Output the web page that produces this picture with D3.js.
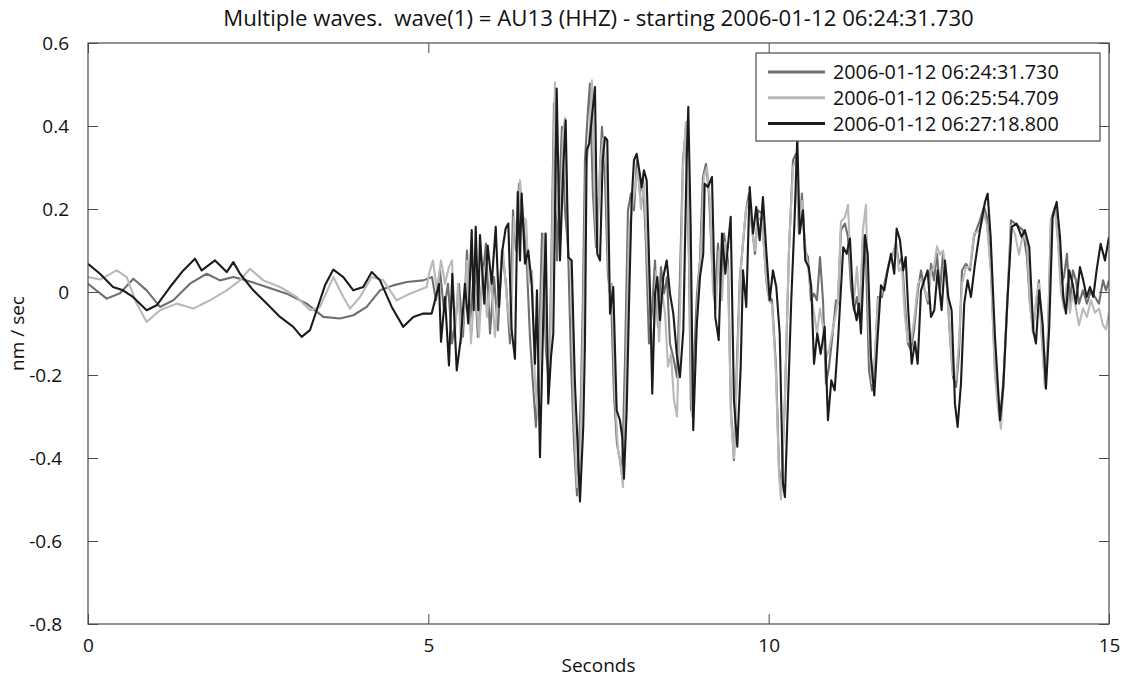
<!DOCTYPE html>
<html>
<head>
<meta charset="utf-8">
<script src="https://cdn.jsdelivr.net/npm/d3@7"></script>
<style>
  html, body { margin: 0; padding: 0; background: #fff; }
  svg { display: block; font-family: "Open Sans", "Noto Sans", sans-serif; }
</style>
</head>
<body>
<svg id="chart" width="1122" height="679"></svg>
<script>
// ---------- data ----------
const titleText = "Multiple waves.  wave(1) = AU13 (HHZ) - starting 2006-01-12 06:24:31.730";
const xLabel = "Seconds";
const yLabel = "nm / sec";
const seriesNames = ["2006-01-12 06:24:31.730", "2006-01-12 06:25:54.709", "2006-01-12 06:27:18.800"];
const xTicks = [0, 5, 10, 15];
const yTicks = [-0.8, -0.6, -0.4, -0.2, 0, 0.2, 0.4, 0.6];
const yTickLabels = ["-0.8", "-0.6", "-0.4", "-0.2", "0", "0.2", "0.4", "0.6"];
const xDomain = [0, 15];
const yDomain = [-0.8, 0.6];

// wave 1 (dark gray): [seconds, nm/sec]
const wave1 = [[0,0.020],[0.275,-0.016],[0.470,-0.003],[0.666,0.032],[0.862,0.004],[1.058,-0.036],[1.253,-0.020],[1.498,0.020],[1.744,0.044],[1.939,0.028],[2.135,0.036],[2.331,0.028],[2.625,0.012],[2.919,-0.004],[3.213,-0.028],[3.457,-0.060],[3.702,-0.064],[3.898,-0.056],[4.094,-0.036],[4.290,0.004],[4.485,0.016],[4.682,0.024],[4.926,0.028],[5.054,0.036],[5.112,-0.020],[5.171,0.052],[5.230,-0.044],[5.289,0.020],[5.348,-0.124],[5.406,-0.060],[5.450,0.020],[5.509,-0.108],[5.568,0.100],[5.612,-0.076],[5.671,0.052],[5.729,-0.108],[5.788,0.020],[5.847,0.117],[5.906,-0.100],[5.965,0.036],[6.023,-0.092],[6.082,0.100],[6.141,0.020],[6.200,-0.124],[6.244,0.197],[6.288,0.100],[6.332,0.261],[6.391,0.181],[6.449,0.060],[6.493,-0.108],[6.537,-0.221],[6.581,-0.325],[6.625,-0.140],[6.670,0.141],[6.728,-0.140],[6.772,-0.221],[6.802,0.020],[6.846,0.455],[6.890,0.076],[6.934,0.277],[6.963,0.398],[7.007,0.197],[7.052,0.108],[7.096,-0.165],[7.140,-0.365],[7.184,-0.490],[7.243,-0.245],[7.272,-0.004],[7.301,0.317],[7.345,0.438],[7.374,0.502],[7.418,0.237],[7.463,0.108],[7.507,0.237],[7.551,0.398],[7.595,0.277],[7.639,0.036],[7.683,-0.004],[7.727,-0.245],[7.771,-0.365],[7.815,-0.405],[7.845,-0.440],[7.889,-0.165],[7.933,0.197],[7.977,0.237],[8.021,0.197],[8.065,0.317],[8.109,0.237],[8.153,0.277],[8.197,0.117],[8.242,-0.124],[8.286,-0.044],[8.330,0.076],[8.374,-0.084],[8.418,0.060],[8.462,-0.004],[8.506,0.036],[8.550,-0.124],[8.609,-0.165],[8.653,-0.205],[8.697,0.036],[8.741,0.317],[8.785,0.398],[8.829,0.076],[8.859,-0.285],[8.903,-0.165],[8.947,-0.004],[8.991,0.076],[9.035,0.277],[9.079,0.309],[9.123,0.237],[9.167,0.076],[9.211,-0.020],[9.255,0.117],[9.299,0.012],[9.343,0.141],[9.402,0.076],[9.446,-0.285],[9.490,-0.405],[9.534,-0.165],[9.578,0.036],[9.623,0.117],[9.667,0.197],[9.711,0.237],[9.755,0.157],[9.799,0.092],[9.843,0.197],[9.902,0.189],[9.961,0.036],[9.990,-0.004],[10.049,-0.020],[10.108,-0.181],[10.152,-0.422],[10.181,-0.485],[10.239,-0.261],[10.298,0.100],[10.357,0.317],[10.401,0.333],[10.445,0.141],[10.489,0.237],[10.533,0.100],[10.577,0.084],[10.621,-0.020],[10.666,-0.004],[10.710,-0.020],[10.754,0.084],[10.798,-0.020],[10.842,-0.221],[10.886,-0.181],[10.930,-0.116],[10.989,-0.020],[11.018,-0.028],[11.062,0.149],[11.121,0.165],[11.165,0.133],[11.209,0.012],[11.253,-0.044],[11.297,-0.012],[11.341,-0.068],[11.385,0.133],[11.429,0.084],[11.474,-0.189],[11.518,-0.237],[11.562,-0.157],[11.606,-0.012],[11.665,-0.012],[11.709,0.028],[11.767,0.068],[11.826,0.092],[11.870,0.117],[11.914,0.068],[11.958,0.084],[12.002,-0.028],[12.046,-0.124],[12.091,-0.140],[12.135,-0.092],[12.193,0.004],[12.238,0.052],[12.282,0.012],[12.340,-0.028],[12.385,0.068],[12.429,0.028],[12.473,0.092],[12.517,0.004],[12.561,0.092],[12.605,0.052],[12.664,-0.108],[12.708,-0.205],[12.752,-0.229],[12.796,-0.149],[12.840,0.052],[12.899,0.068],[12.958,0.052],[13.016,0.133],[13.104,0.173],[13.163,0.205],[13.207,0.181],[13.266,0.052],[13.325,-0.189],[13.369,-0.269],[13.413,-0.285],[13.457,-0.189],[13.516,0.012],[13.560,0.173],[13.618,0.165],[13.677,0.157],[13.736,0.149],[13.795,0.084],[13.839,-0.028],[13.883,-0.092],[13.927,-0.028],[13.971,0.028],[14.015,-0.108],[14.059,-0.221],[14.103,-0.108],[14.147,0.173],[14.206,0.205],[14.250,0.133],[14.294,0.020],[14.338,0.036],[14.382,0.092],[14.426,-0.028],[14.470,0.052],[14.515,0.028],[14.559,-0.028],[14.617,0.004],[14.676,-0.028],[14.735,0.004],[14.794,-0.012],[14.853,-0.028],[14.912,0.028],[14.956,0.004],[15.0,0.028]];

// wave 2 (light gray)
const wave2 = [[0,0.036],[0.176,0.030],[0.422,0.052],[0.569,0.036],[0.715,-0.028],[0.862,-0.072],[1.058,-0.044],[1.303,-0.028],[1.547,-0.040],[1.792,-0.020],[2.038,0.004],[2.233,0.028],[2.380,0.056],[2.575,0.028],[2.821,0.012],[3.066,-0.012],[3.261,-0.044],[3.408,-0.036],[3.604,0.036],[3.751,-0.012],[3.849,-0.040],[3.996,-0.012],[4.168,0.036],[4.338,0.028],[4.535,-0.020],[4.730,-0.004],[4.976,0.012],[5.010,0.044],[5.068,0.076],[5.127,0.004],[5.186,0.076],[5.245,0.020],[5.303,0.060],[5.348,0.076],[5.392,-0.100],[5.436,0.020],[5.480,-0.124],[5.524,-0.044],[5.568,0.076],[5.627,-0.124],[5.685,0.020],[5.744,-0.108],[5.803,0.060],[5.862,-0.060],[5.920,0.036],[5.979,-0.108],[6.038,0.020],[6.097,0.100],[6.155,-0.020],[6.214,-0.100],[6.258,0.181],[6.302,0.117],[6.347,0.269],[6.391,0.181],[6.435,0.173],[6.479,0.020],[6.523,0.052],[6.567,-0.221],[6.611,-0.301],[6.655,-0.060],[6.699,0.141],[6.743,-0.140],[6.787,-0.181],[6.816,0.100],[6.860,0.505],[6.890,0.200],[6.934,0.150],[6.978,0.380],[7.007,0.420],[7.052,0.100],[7.096,0.060],[7.140,-0.300],[7.184,-0.470],[7.228,-0.420],[7.272,-0.100],[7.316,0.300],[7.360,0.360],[7.404,0.510],[7.448,0.200],[7.478,0.100],[7.522,0.300],[7.566,0.370],[7.610,0.300],[7.654,0.000],[7.698,0.020],[7.742,-0.250],[7.786,-0.380],[7.830,-0.420],[7.859,-0.470],[7.903,-0.200],[7.948,0.150],[7.992,0.200],[8.036,0.250],[8.080,0.300],[8.124,0.200],[8.168,0.260],[8.212,0.100],[8.256,-0.050],[8.300,-0.150],[8.345,0.050],[8.389,-0.120],[8.433,0.000],[8.477,-0.050],[8.521,-0.180],[8.565,-0.150],[8.609,-0.260],[8.653,-0.300],[8.697,-0.050],[8.741,0.300],[8.785,0.410],[8.829,0.100],[8.873,-0.300],[8.917,-0.200],[8.961,0.000],[9.005,0.100],[9.050,0.280],[9.094,0.300],[9.138,0.220],[9.182,0.000],[9.226,-0.040],[9.270,0.100],[9.314,-0.020],[9.358,0.120],[9.402,0.050],[9.446,-0.300],[9.490,-0.400],[9.534,-0.200],[9.578,0.030],[9.623,0.120],[9.667,0.200],[9.711,0.220],[9.755,0.150],[9.799,0.100],[9.843,0.180],[9.902,0.170],[9.961,0.040],[10.005,-0.020],[10.049,-0.030],[10.108,-0.200],[10.152,-0.440],[10.181,-0.500],[10.239,-0.250],[10.298,0.100],[10.357,0.300],[10.401,0.320],[10.445,0.150],[10.489,0.220],[10.533,0.120],[10.577,0.060],[10.621,0.000],[10.666,-0.050],[10.710,-0.100],[10.754,-0.040],[10.798,-0.080],[10.842,-0.160],[10.886,-0.140],[10.930,-0.100],[10.989,-0.050],[11.018,-0.020],[11.062,0.170],[11.121,0.180],[11.165,0.210],[11.209,0.050],[11.253,-0.020],[11.297,0.060],[11.341,-0.050],[11.385,0.150],[11.429,0.210],[11.474,-0.100],[11.518,-0.220],[11.562,-0.150],[11.606,-0.020],[11.665,0.000],[11.709,0.020],[11.767,0.070],[11.826,0.090],[11.870,0.120],[11.914,0.050],[11.958,0.060],[12.002,-0.060],[12.046,-0.120],[12.091,-0.120],[12.135,-0.070],[12.193,0.020],[12.238,0.030],[12.282,0.010],[12.340,-0.020],[12.385,0.050],[12.429,0.060],[12.473,0.110],[12.517,0.090],[12.561,0.100],[12.605,0.050],[12.664,-0.100],[12.708,-0.200],[12.752,-0.210],[12.796,-0.120],[12.840,0.020],[12.899,0.060],[12.958,0.060],[13.016,0.140],[13.104,0.150],[13.163,0.190],[13.207,0.160],[13.266,0.050],[13.325,-0.200],[13.369,-0.280],[13.413,-0.330],[13.457,-0.200],[13.516,0.000],[13.560,0.160],[13.618,0.140],[13.677,0.090],[13.736,0.140],[13.795,0.120],[13.839,-0.030],[13.883,-0.100],[13.927,-0.020],[13.971,0.020],[14.015,-0.120],[14.059,-0.230],[14.103,-0.100],[14.147,0.170],[14.206,0.200],[14.250,0.120],[14.294,0.000],[14.338,-0.040],[14.382,0.020],[14.426,-0.050],[14.470,0.000],[14.515,-0.040],[14.559,-0.080],[14.617,-0.040],[14.676,-0.060],[14.735,-0.020],[14.794,-0.050],[14.853,-0.040],[14.912,-0.080],[14.956,-0.090],[15.0,-0.050]];

// wave 3 (black)
const wave3 = [[0,0.068],[0.176,0.044],[0.367,0.012],[0.514,0.004],[0.661,-0.012],[0.862,-0.044],[1.009,-0.032],[1.205,0.012],[1.400,0.052],[1.572,0.080],[1.670,0.052],[1.866,0.076],[2.038,0.048],[2.135,0.072],[2.233,0.044],[2.428,0.004],[2.625,-0.028],[2.821,-0.060],[3.016,-0.084],[3.139,-0.108],[3.261,-0.092],[3.360,-0.044],[3.482,0.016],[3.604,0.054],[3.751,0.036],[3.898,0.004],[4.044,0.012],[4.168,0.048],[4.290,0.028],[4.462,-0.036],[4.632,-0.084],[4.779,-0.060],[4.926,-0.052],[5.049,-0.052],[5.098,-0.020],[5.157,0.020],[5.186,-0.120],[5.245,-0.012],[5.303,-0.177],[5.352,0.044],[5.417,-0.189],[5.480,-0.108],[5.538,0.020],[5.587,-0.076],[5.637,0.149],[5.666,-0.044],[5.696,0.157],[5.734,-0.044],[5.759,0.137],[5.822,-0.028],[5.872,0.112],[5.931,0.020],[5.990,0.157],[6.038,-0.036],[6.087,0.100],[6.136,0.153],[6.175,0.165],[6.224,-0.092],[6.273,-0.161],[6.313,0.241],[6.347,0.076],[6.371,0.237],[6.420,0.068],[6.468,0.100],[6.518,0.020],[6.567,-0.173],[6.596,0.004],[6.640,-0.398],[6.689,-0.060],[6.724,0.141],[6.762,-0.269],[6.802,-0.157],[6.836,-0.100],[6.886,0.490],[6.934,0.076],[6.983,0.301],[7.018,0.414],[7.056,0.084],[7.106,0.076],[7.154,-0.221],[7.203,-0.405],[7.228,-0.505],[7.276,-0.325],[7.301,-0.124],[7.326,0.341],[7.364,0.358],[7.448,0.494],[7.482,0.092],[7.522,0.076],[7.561,0.317],[7.595,0.373],[7.629,0.366],[7.669,-0.052],[7.717,0.012],[7.767,-0.285],[7.815,-0.309],[7.849,-0.349],[7.874,-0.450],[7.914,-0.285],[7.952,-0.004],[7.987,0.221],[8.021,0.317],[8.061,0.333],[8.099,0.293],[8.134,0.253],[8.168,0.293],[8.208,0.269],[8.256,0.004],[8.290,-0.245],[8.330,-0.004],[8.364,0.036],[8.403,-0.068],[8.452,0.036],[8.502,0.076],[8.550,-0.004],[8.599,-0.052],[8.649,-0.148],[8.697,-0.205],[8.746,-0.092],[8.795,0.317],[8.819,0.446],[8.854,0.157],[8.892,-0.333],[8.942,-0.084],[8.991,0.036],[9.039,0.092],[9.060,0.261],[9.108,0.253],[9.167,0.277],[9.216,-0.060],[9.266,-0.116],[9.314,0.141],[9.363,0.044],[9.442,0.181],[9.490,-0.261],[9.539,-0.373],[9.589,-0.181],[9.623,0.052],[9.671,-0.036],[9.721,0.253],[9.770,0.141],[9.818,0.205],[9.868,0.125],[9.916,0.229],[9.965,0.100],[10.015,-0.020],[10.063,0.052],[10.112,0.012],[10.162,-0.100],[10.210,-0.462],[10.239,-0.494],[10.284,-0.261],[10.332,-0.020],[10.382,0.181],[10.420,0.373],[10.455,0.141],[10.504,0.197],[10.538,0.076],[10.588,0.060],[10.626,0.012],[10.666,-0.173],[10.714,-0.100],[10.764,-0.149],[10.823,-0.084],[10.871,-0.309],[10.920,-0.213],[10.970,-0.237],[11.018,-0.120],[11.096,0.108],[11.146,0.092],[11.194,0.129],[11.243,-0.028],[11.293,-0.068],[11.327,-0.028],[11.356,-0.100],[11.415,0.137],[11.455,0.092],[11.503,-0.157],[11.552,-0.249],[11.601,-0.108],[11.650,0.016],[11.698,0.004],[11.748,0.052],[11.797,0.092],[11.845,0.044],[11.880,0.153],[11.929,0.125],[11.977,0.052],[12.013,0.084],[12.051,-0.044],[12.101,-0.173],[12.149,-0.120],[12.189,-0.173],[12.238,0.004],[12.286,0.028],[12.336,0.052],[12.385,-0.060],[12.433,-0.044],[12.483,0.052],[12.541,-0.044],[12.590,0.076],[12.639,-0.012],[12.688,-0.044],[12.737,-0.269],[12.776,-0.325],[12.825,-0.221],[12.873,-0.028],[12.923,0.028],[12.972,-0.012],[13.031,0.068],[13.104,0.149],[13.178,0.217],[13.217,0.237],[13.261,0.133],[13.325,-0.108],[13.398,-0.309],[13.447,-0.229],[13.505,-0.028],[13.570,0.157],[13.643,0.165],[13.717,0.133],[13.765,0.149],[13.829,0.108],[13.887,-0.092],[13.927,-0.124],[13.975,0.004],[14.025,-0.076],[14.074,-0.233],[14.122,-0.084],[14.172,0.181],[14.231,0.217],[14.280,0.133],[14.328,-0.012],[14.368,-0.052],[14.416,0.052],[14.466,0.020],[14.515,-0.028],[14.573,0.060],[14.622,0.028],[14.672,-0.012],[14.720,0.012],[14.769,-0.012],[14.818,0.052],[14.877,0.116],[14.941,0.076],[15.0,0.133]];

const seriesColors = ["#6f6f6f", "#b9b9b9", "#1b1b1b"];

// ---------- layout ----------
const W = 1122, H = 679;
const margin = { top: 43, right: 13, bottom: 55, left: 88 };
const iw = W - margin.left - margin.right;
const ih = H - margin.top - margin.bottom;
const axisColor = "#4a4a4a";
const FONT = '"Open Sans", "Noto Sans", sans-serif';

const svg = d3.select("#chart");
svg.append("rect").attr("width", W).attr("height", H).attr("fill", "#fff");

const x = d3.scaleLinear().domain(xDomain).range([0, iw]);
const y = d3.scaleLinear().domain(yDomain).range([ih, 0]);

const g = svg.append("g").attr("transform", `translate(${margin.left},${margin.top})`);

g.append("clipPath").attr("id", "clip")
  .append("rect").attr("width", iw).attr("height", ih);

// lines
const line = d3.line().x(d => x(d[0])).y(d => y(d[1]));
const waves = [wave1, wave2, wave3];
const plot = g.append("g").attr("clip-path", "url(#clip)");
waves.forEach((w, i) => {
  plot.append("path")
    .datum(w)
    .attr("fill", "none")
    .attr("stroke", seriesColors[i])
    .attr("stroke-width", 2.1)
    .attr("stroke-linejoin", "round")
    .attr("d", line);
});

// axes (ticks inward on all four sides)
const fmtY = d => yTickLabels[yTicks.indexOf(d)];
const styleAxis = sel => {
  sel.select(".domain").remove();
  sel.selectAll(".tick line").attr("stroke", axisColor).attr("stroke-width", 1);
  sel.selectAll(".tick text").attr("fill", "#111").style("font-size", "19px")
    .style("font-family", FONT);
};

g.append("g").attr("transform", `translate(0,${ih})`)
  .call(d3.axisBottom(x).tickValues(xTicks).tickSize(-10).tickPadding(15).tickFormat(d3.format("d")))
  .call(styleAxis);
const yAxisG = g.append("g")
  .call(d3.axisLeft(y).tickValues(yTicks).tickSize(-10).tickPadding(19).tickFormat(fmtY))
  .call(styleAxis);
// negative labels sit slightly further left, as in the original
yAxisG.selectAll(".tick text").attr("dx", d => d < 0 ? -7 : 0);

g.append("g")
  .call(d3.axisTop(x).tickValues(xTicks).tickSize(-10).tickFormat(""))
  .call(styleAxis);
g.append("g").attr("transform", `translate(${iw},0)`)
  .call(d3.axisRight(y).tickValues(yTicks).tickSize(-10).tickFormat(""))
  .call(styleAxis);

// frame
g.append("rect").attr("width", iw).attr("height", ih)
  .attr("fill", "none").attr("stroke", axisColor).attr("stroke-width", 1.2);

// title and axis labels
svg.append("text")
  .attr("x", margin.left + iw / 2).attr("y", 26)
  .attr("text-anchor", "middle")
  .style("font-size", "22.2px").style("white-space", "pre").attr("fill", "#111")
  .text(titleText);

svg.append("text")
  .attr("x", margin.left + iw / 2).attr("y", 672)
  .attr("text-anchor", "middle")
  .style("font-size", "19px").attr("fill", "#111")
  .text(xLabel);

svg.append("text")
  .attr("transform", `translate(24,${margin.top + y(-0.1)}) rotate(-90)`)
  .attr("text-anchor", "middle")
  .style("font-size", "19px").attr("fill", "#111")
  .text(yLabel);

// legend
const lg = svg.append("g").attr("transform", "translate(756,53)");
lg.append("rect").attr("width", 344).attr("height", 88)
  .attr("fill", "#fff").attr("stroke", axisColor).attr("stroke-width", 1.2);
seriesNames.forEach((name, i) => {
  const cy = 19 + i * 25.8;
  lg.append("line").attr("x1", 12).attr("x2", 69).attr("y1", cy).attr("y2", cy)
    .attr("stroke", seriesColors[i]).attr("stroke-width", 3);
  lg.append("text").attr("x", 77).attr("y", cy).attr("dy", "0.35em")
    .style("font-size", "19.8px").attr("fill", "#111")
    .text(name);
});
</script>
</body>
</html>
